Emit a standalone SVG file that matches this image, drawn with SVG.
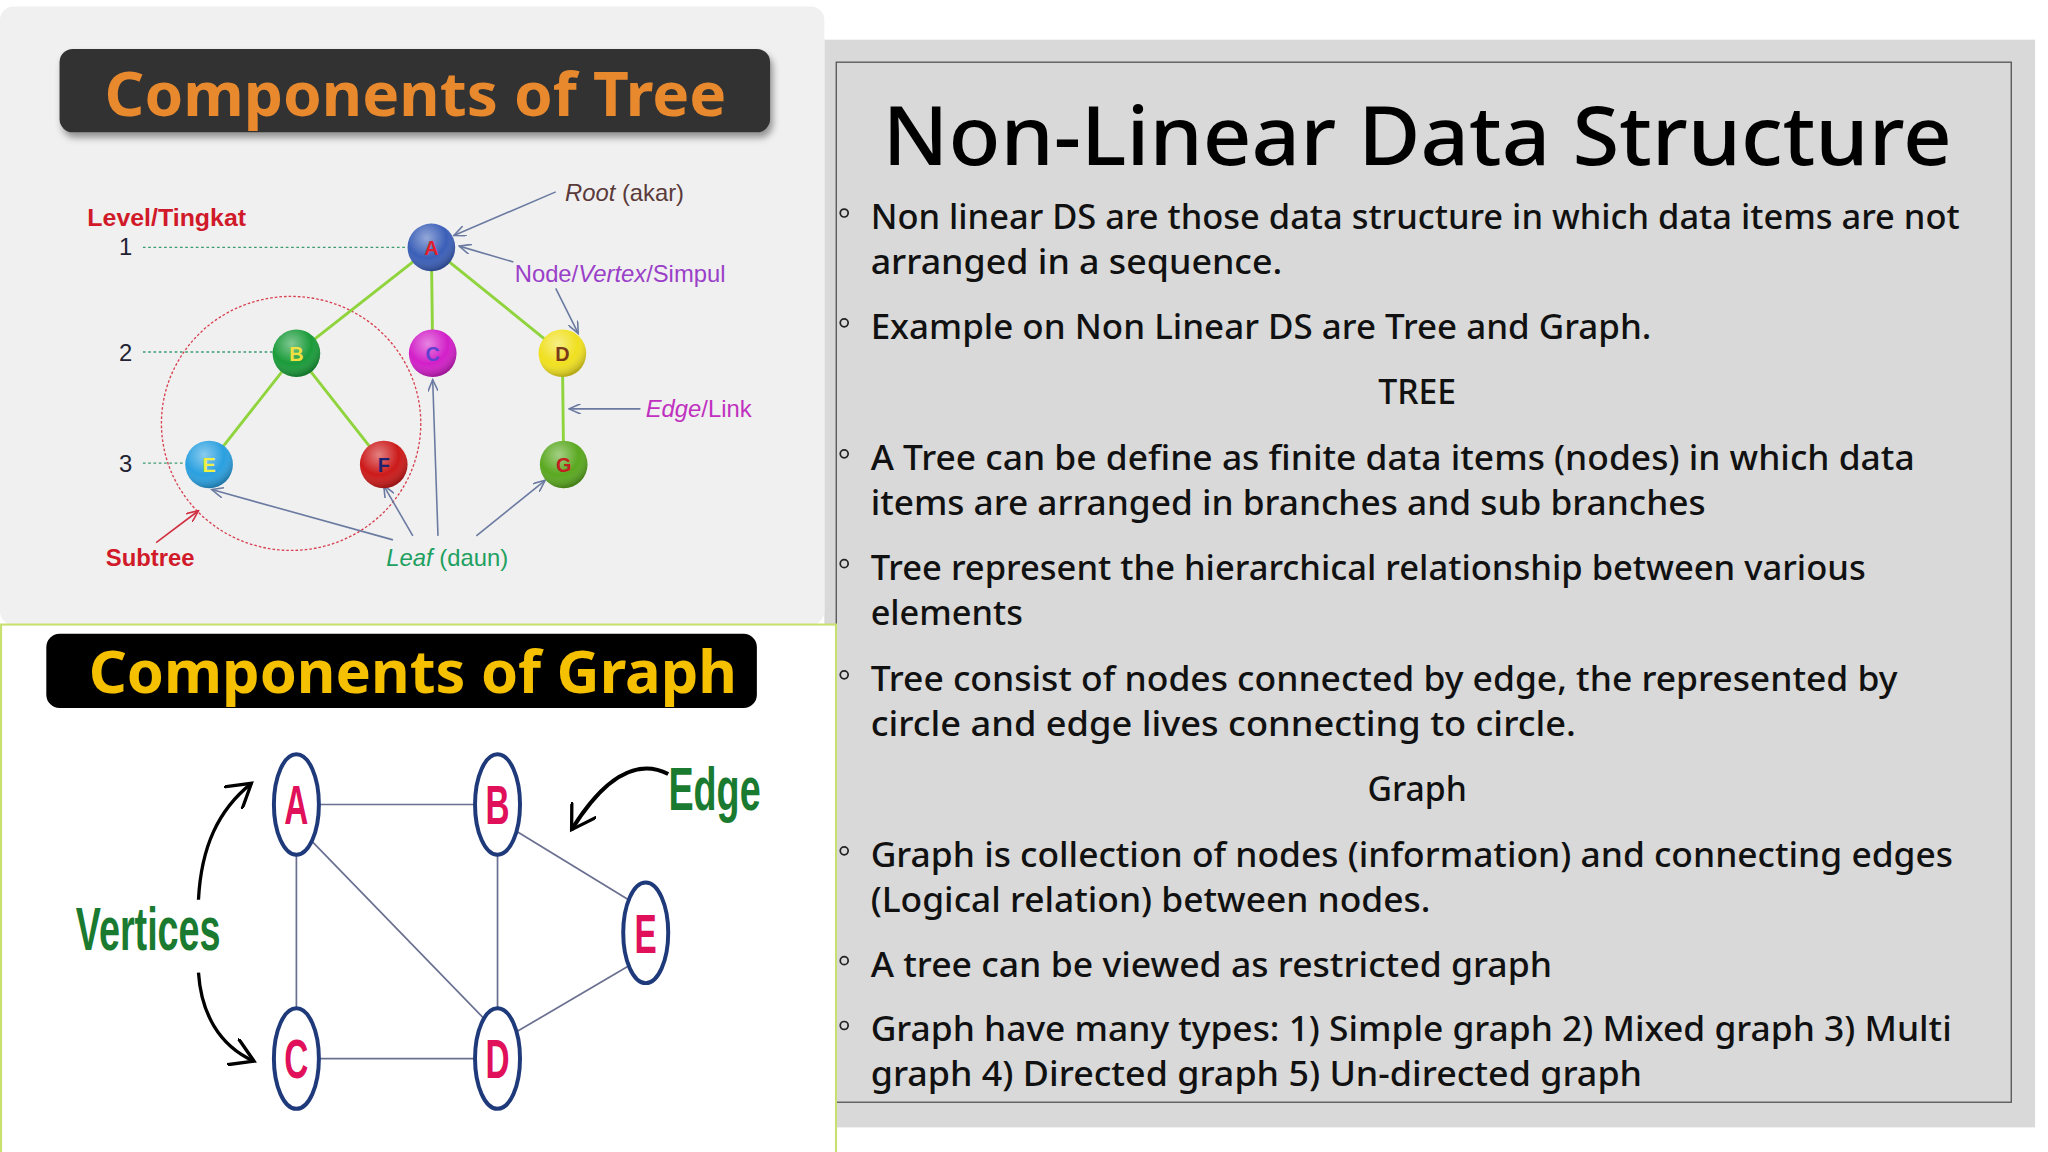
<svg xmlns="http://www.w3.org/2000/svg" width="2048" height="1152" viewBox="0 0 2048 1152">
<defs>
<style>
.tn{font-family:"Liberation Sans",Arial,sans-serif;font-weight:bold;font-size:15px;text-anchor:middle}
.lbl{font-family:"Liberation Sans",Arial,sans-serif;font-size:18px}
.edge{stroke:#8fd43c;stroke-width:2.2}
.ptr{stroke:#6a7aa0;stroke-width:1.2;fill:none;marker-end:url(#ah)}
.ge{stroke:#6a7090;stroke-width:1.3}
.gn{fill:#fff;stroke:#1f3a7a;stroke-width:3}
.gl{font-family:"Liberation Sans",Arial,sans-serif;font-weight:bold;font-size:42px;fill:#e0105a;text-anchor:middle}
.bt{font-family:"Noto Sans",sans-serif;font-weight:500;font-size:25.5px;fill:#111}
.bul{fill:none;stroke:#222;stroke-width:1.3}
</style>
<marker id="ah" markerWidth="10" markerHeight="8" refX="9" refY="4" orient="auto" markerUnits="userSpaceOnUse"><path d="M0,0 L9,4 L0,8" fill="none" stroke="#6a7aa0" stroke-width="1.2"/></marker>
<marker id="ahr" markerWidth="10" markerHeight="8" refX="9" refY="4" orient="auto" markerUnits="userSpaceOnUse"><path d="M0,0 L9,4 L0,8" fill="none" stroke="#d03040" stroke-width="1.2"/></marker>
<marker id="ahb" markerWidth="22" markerHeight="22" refX="18" refY="11" orient="auto" markerUnits="userSpaceOnUse"><path d="M0,0 L18,11 L0,22" fill="none" stroke="#000" stroke-width="2.5"/></marker>
<radialGradient id="shine" cx="0.4" cy="0.3" r="0.7"><stop offset="0" stop-color="#fff" stop-opacity="0.45"/><stop offset="0.6" stop-color="#fff" stop-opacity="0"/><stop offset="1" stop-color="#000" stop-opacity="0.25"/></radialGradient>
<filter id="sh" x="-5%" y="-10%" width="110%" height="130%"><feDropShadow dx="2" dy="4" stdDeviation="3" flood-opacity="0.4"/></filter>
</defs>
<rect width="2048" height="1152" fill="#fff"/>
<g transform="scale(1.3232)">
<!-- right panel -->
<g id="text-panel">
<rect x="623" y="30" width="915" height="822" fill="#d9d9d9"/>
<rect x="632" y="47" width="888" height="786" fill="none" stroke="#555" stroke-width="1"/>
<text x="1071" y="125" text-anchor="middle" font-family="Noto Sans,sans-serif" font-weight="500" font-size="62" textLength="808" lengthAdjust="spacingAndGlyphs" fill="#000">Non-Linear Data Structure</text>
<g class="bt">
<text x="658" y="173" textLength="823" lengthAdjust="spacingAndGlyphs">Non linear DS are those data structure in which data items are not</text>
<text x="658" y="207" textLength="311" lengthAdjust="spacingAndGlyphs">arranged in a sequence.</text>
<text x="658" y="256" textLength="590" lengthAdjust="spacingAndGlyphs">Example on Non Linear DS are Tree and Graph.</text>
<text x="1071" y="305" text-anchor="middle">TREE</text>
<text x="658" y="355" textLength="789" lengthAdjust="spacingAndGlyphs">A Tree can be define as finite data items (nodes) in which data</text>
<text x="658" y="389" textLength="631" lengthAdjust="spacingAndGlyphs">items are arranged in branches and sub branches</text>
<text x="658" y="438" textLength="752" lengthAdjust="spacingAndGlyphs">Tree represent the hierarchical relationship between various</text>
<text x="658" y="472" textLength="115" lengthAdjust="spacingAndGlyphs">elements</text>
<text x="658" y="522" textLength="776" lengthAdjust="spacingAndGlyphs">Tree consist of nodes connected by edge, the represented by</text>
<text x="658" y="556" textLength="533" lengthAdjust="spacingAndGlyphs">circle and edge lives connecting to circle.</text>
<text x="1071" y="605" text-anchor="middle">Graph</text>
<text x="658" y="655" textLength="818" lengthAdjust="spacingAndGlyphs">Graph is collection of nodes (information) and connecting edges</text>
<text x="658" y="689" textLength="423" lengthAdjust="spacingAndGlyphs">(Logical relation) between nodes.</text>
<text x="658" y="738" textLength="515" lengthAdjust="spacingAndGlyphs">A tree can be viewed as restricted graph</text>
<text x="658" y="787" textLength="817" lengthAdjust="spacingAndGlyphs">Graph have many types: 1) Simple graph 2) Mixed graph 3) Multi</text>
<text x="658" y="821" textLength="583" lengthAdjust="spacingAndGlyphs">graph  4) Directed graph 5) Un-directed graph</text>
</g>
<g class="bul">
<circle cx="638" cy="161" r="3"/><circle cx="638" cy="244" r="3"/><circle cx="638" cy="343" r="3"/><circle cx="638" cy="426" r="3"/><circle cx="638" cy="510" r="3"/><circle cx="638" cy="643" r="3"/><circle cx="638" cy="726" r="3"/><circle cx="638" cy="775" r="3"/>
</g>
</g>
<!-- tree panel -->
<g id="tree-panel">
<rect x="0" y="5" width="623" height="467" rx="10" fill="#f0f0f0"/>
<rect x="45" y="37" width="537" height="63" rx="10" fill="#333" filter="url(#sh)"/>
<text x="314" y="88" text-anchor="middle" font-family="Noto Sans,sans-serif" font-weight="bold" font-size="46" fill="#e8892e" textLength="470" lengthAdjust="spacingAndGlyphs">Components of Tree</text>
<text x="66" y="171" class="lbl" font-weight="bold" font-size="17" fill="#d01a2a" textLength="120" lengthAdjust="spacingAndGlyphs">Level/Tingkat</text>
<text x="95" y="193" class="lbl" fill="#223" text-anchor="middle">1</text>
<text x="95" y="273" class="lbl" fill="#223" text-anchor="middle">2</text>
<text x="95" y="357" class="lbl" fill="#223" text-anchor="middle">3</text>
<text x="80" y="428" class="lbl" font-weight="bold" fill="#d01a2a">Subtree</text>
<text x="427" y="152" class="lbl" fill="#5a3a3a"><tspan font-style="italic">Root</tspan> (akar)</text>
<text x="389" y="213" class="lbl" fill="#9a40c8">Node/<tspan font-style="italic">Vertex</tspan>/Simpul</text>
<text x="488" y="315" class="lbl" fill="#c030c0"><tspan font-style="italic">Edge</tspan>/Link</text>
<text x="292" y="428" class="lbl" fill="#20a060"><tspan font-style="italic">Leaf</tspan> (daun)</text>
</g>
<g id="tree-connectors">
<g stroke="#3a9a70" stroke-width="1" stroke-dasharray="2,2"><line x1="108" y1="187" x2="308" y2="187"/><line x1="108" y1="266" x2="206" y2="266"/><line x1="108" y1="350" x2="140" y2="350"/></g>
<ellipse cx="220" cy="320" rx="98" ry="96" fill="none" stroke="#d84050" stroke-width="1" stroke-dasharray="2,1.5"/>
<g class="edge"><line x1="326" y1="187" x2="224" y2="267"/><line x1="326" y1="187" x2="327" y2="267"/><line x1="326" y1="187" x2="425" y2="267"/><line x1="224" y1="267" x2="158" y2="351"/><line x1="224" y1="267" x2="290" y2="351"/><line x1="425" y1="267" x2="426" y2="351"/></g>
<path class="ptr" d="M420,145 L343,178"/>
<path class="ptr" d="M388,198 L347,186"/>
<path class="ptr" d="M420,218 L437,252"/>
<path class="ptr" d="M484,309 L430,309"/>
<path class="ptr" d="M297,408 L160,370"/>
<path class="ptr" d="M312,405 L290,367"/>
<path class="ptr" d="M331,405 L327,287"/>
<path class="ptr" d="M360,405 L412,363"/>
<path d="M118,410 L150,386" stroke="#d03040" stroke-width="1.2" fill="none" marker-end="url(#ahr)"/>
</g>
<g id="tnode-A"><circle cx="326" cy="187" r="18" fill="#3b5fb8"/><circle cx="326" cy="187" r="18" fill="url(#shine)"/><text x="326" y="193" class="tn" fill="#e0202a">A</text></g>
<g id="tnode-B"><circle cx="224" cy="267" r="18" fill="#1a9b3a"/><circle cx="224" cy="267" r="18" fill="url(#shine)"/><text x="224" y="273" class="tn" fill="#f0e040">B</text></g>
<g id="tnode-C"><circle cx="327" cy="267" r="18" fill="#d21fc8"/><circle cx="327" cy="267" r="18" fill="url(#shine)"/><text x="327" y="273" class="tn" fill="#6040d0">C</text></g>
<g id="tnode-D"><circle cx="425" cy="267" r="18" fill="#f0e020"/><circle cx="425" cy="267" r="18" fill="url(#shine)"/><text x="425" y="273" class="tn" fill="#7a3a1a">D</text></g>
<g id="tnode-E"><circle cx="158" cy="351" r="18" fill="#2aa0e0"/><circle cx="158" cy="351" r="18" fill="url(#shine)"/><text x="158" y="357" class="tn" fill="#f0f040">E</text></g>
<g id="tnode-F"><circle cx="290" cy="351" r="18" fill="#cc1a1a"/><circle cx="290" cy="351" r="18" fill="url(#shine)"/><text x="290" y="357" class="tn" fill="#202070">F</text></g>
<g id="tnode-G"><circle cx="426" cy="351" r="18" fill="#5aa820"/><circle cx="426" cy="351" r="18" fill="url(#shine)"/><text x="426" y="357" class="tn" fill="#c02020">G</text></g>
<!-- graph panel -->
<g id="graph-panel">
<rect x="0.8" y="472" width="631" height="404" fill="#fff" stroke="#c8e070" stroke-width="1.6"/>
<rect x="35" y="479" width="537" height="56" rx="10" fill="#000"/>
<text x="312" y="524" text-anchor="middle" font-family="Noto Sans,sans-serif" font-weight="bold" font-size="44" fill="#f5c000" textLength="490" lengthAdjust="spacingAndGlyphs">Components of Graph</text>
<text transform="translate(112,718) scale(0.62,1)" text-anchor="middle" font-family="Liberation Sans,sans-serif" font-weight="bold" font-size="46" fill="#1a7a30">Vertices</text>
<text transform="translate(540,612) scale(0.62,1)" text-anchor="middle" font-family="Liberation Sans,sans-serif" font-weight="bold" font-size="46" fill="#1a7a30">Edge</text>
</g>
<g id="graph-connectors">
<g class="ge"><line x1="241" y1="608" x2="359" y2="608"/><line x1="241" y1="800" x2="359" y2="800"/><line x1="224" y1="646" x2="224" y2="762"/><line x1="376" y1="646" x2="376" y2="762"/><line x1="236" y1="636" x2="366" y2="770"/><line x1="390" y1="628" x2="475" y2="680"/><line x1="390" y1="780" x2="475" y2="730"/></g>
<path d="M150,680 C152,640 165,612 190,592" stroke="#000" stroke-width="2.5" fill="none" marker-end="url(#ahb)"/>
<path d="M150,735 C152,765 165,790 192,802" stroke="#000" stroke-width="2.5" fill="none" marker-end="url(#ahb)"/>
<path d="M505,585 C480,572 455,590 432,627" stroke="#000" stroke-width="3" fill="none" marker-end="url(#ahb)"/>
</g>
<g id="gnode-A"><ellipse cx="224" cy="608" rx="17" ry="38" class="gn"/><text transform="translate(224,623) scale(0.6,1)" class="gl">A</text></g>
<g id="gnode-B"><ellipse cx="376" cy="608" rx="17" ry="38" class="gn"/><text transform="translate(376,623) scale(0.6,1)" class="gl">B</text></g>
<g id="gnode-C"><ellipse cx="224" cy="800" rx="17" ry="38" class="gn"/><text transform="translate(224,815) scale(0.6,1)" class="gl">C</text></g>
<g id="gnode-D"><ellipse cx="376" cy="800" rx="17" ry="38" class="gn"/><text transform="translate(376,815) scale(0.6,1)" class="gl">D</text></g>
<g id="gnode-E"><ellipse cx="488" cy="705" rx="17" ry="38" class="gn"/><text transform="translate(488,720) scale(0.6,1)" class="gl">E</text></g>
</g>
</svg>
